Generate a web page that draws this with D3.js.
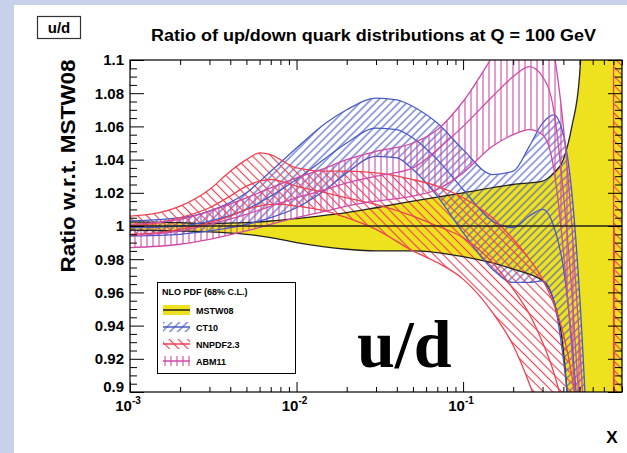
<!DOCTYPE html>
<html><head><meta charset="utf-8">
<script src="https://cdn.jsdelivr.net/npm/d3@7"></script>
<style>body{margin:0;background:#fff;overflow:hidden}svg{display:block}</style>
</head><body>
<script>
// ---------- data ----------
const mstwX    = [0.001, 0.002, 0.003, 0.005, 0.007, 0.01, 0.02, 0.03, 0.05, 0.1, 0.2, 0.3, 0.35, 0.4, 0.45, 0.5, 0.55, 0.6, 0.9];
const mstwHigh = [1.0025, 1.002, 1.0015, 1.002, 1.003, 1.0045, 1.008, 1.011, 1.015, 1.020, 1.025, 1.027, 1.032, 1.040, 1.06, 1.09, 1.2, 1.5, 2.0];
const mstwLow  = [0.9975, 0.997, 0.9965, 0.995, 0.993, 0.990, 0.986, 0.985, 0.985, 0.9815, 0.974, 0.967, 0.955, 0.925, 0.85, 0.7, 0.5, 0.3, 0.0];

const ct10X    = [0.001, 0.002, 0.003, 0.005, 0.007, 0.01, 0.015, 0.02, 0.03, 0.04, 0.05, 0.07, 0.1, 0.15, 0.2, 0.25, 0.3, 0.35, 0.4, 0.45, 0.5, 0.6];
const ct10High = [1.003, 1.005, 1.009, 1.020, 1.033, 1.047, 1.062, 1.070, 1.077, 1.076, 1.072, 1.062, 1.046, 1.031, 1.033, 1.048, 1.062, 1.067, 1.055, 1.02, 0.96, 0.8];
const ct10Cen  = [0.999, 1.0, 1.003, 1.010, 1.018, 1.028, 1.041, 1.050, 1.059, 1.058, 1.053, 1.04, 1.022, 1.003, 0.999, 1.006, 1.010, 1.0, 0.975, 0.93, 0.87, 0.7];
const ct10Low  = [0.994, 0.995, 0.997, 1.001, 1.005, 1.011, 1.022, 1.032, 1.042, 1.041, 1.034, 1.018, 0.996, 0.974, 0.966, 0.966, 0.967, 0.955, 0.92, 0.87, 0.8, 0.6];

const nnpdfX    = [0.001, 0.0015, 0.002, 0.003, 0.004, 0.005, 0.006, 0.007, 0.008, 0.01, 0.015, 0.02, 0.03, 0.05, 0.07, 0.1, 0.15, 0.2, 0.25, 0.3, 0.35, 0.4, 0.45, 0.5, 0.6, 0.7, 0.8, 0.81, 0.9];
const nnpdfHigh = [1.006, 1.008, 1.012, 1.022, 1.033, 1.040, 1.044, 1.043, 1.040, 1.035, 1.033, 1.033, 1.032, 1.028, 1.024, 1.017, 1.005, 0.992, 0.98, 0.968, 0.953, 0.935, 0.91, 0.875, 0.8, 0.72, 0.65, 4.0, 4.0];
const nnpdfCen  = [1.0, 1.002, 1.005, 1.011, 1.018, 1.024, 1.027, 1.028, 1.027, 1.024, 1.02, 1.017, 1.013, 1.006, 1.0, 0.993, 0.978, 0.962, 0.947, 0.93, 0.912, 0.89, 0.862, 0.82, 0.74, 0.66, 0.6, 1.0, 1.0];
const nnpdfLow  = [0.995, 0.996, 0.998, 1.002, 1.006, 1.010, 1.012, 1.013, 1.013, 1.012, 1.009, 1.005, 0.998, 0.985, 0.978, 0.968, 0.948, 0.928, 0.905, 0.882, 0.86, 0.835, 0.80, 0.76, 0.68, 0.6, 0.55, -2.0, -2.0];

const abmX    = [0.001, 0.002, 0.003, 0.005, 0.007, 0.01, 0.015, 0.02, 0.03, 0.05, 0.07, 0.1, 0.15, 0.2, 0.25, 0.3, 0.35, 0.4, 0.45, 0.5, 0.6];
const abmHigh = [1.001, 1.004, 1.009, 1.017, 1.023, 1.029, 1.035, 1.040, 1.045, 1.050, 1.058, 1.075, 1.102, 1.122, 1.13, 1.125, 1.105, 1.06, 1.0, 0.93, 0.8];
const abmCen  = [0.994, 0.997, 1.001, 1.007, 1.012, 1.017, 1.022, 1.026, 1.030, 1.035, 1.046, 1.06, 1.078, 1.09, 1.096, 1.09, 1.07, 1.02, 0.96, 0.89, 0.75];
const abmLow  = [0.987, 0.989, 0.992, 0.997, 1.001, 1.005, 1.009, 1.012, 1.015, 1.018, 1.022, 1.032, 1.048, 1.055, 1.058, 1.055, 1.035, 0.985, 0.925, 0.86, 0.7];

const yMajorTicks  = [0.9, 0.92, 0.94, 0.96, 0.98, 1.0, 1.02, 1.04, 1.06, 1.08, 1.1];
const yTickLabels  = ["0.9", "0.92", "0.94", "0.96", "0.98", "1", "1.02", "1.04", "1.06", "1.08", "1.1"];
const xMajorTicks  = [0.001, 0.01, 0.1];
const xTickExps    = ["-3", "-2", "-1"];
const xMinorTicks  = [0.002,0.003,0.004,0.005,0.006,0.007,0.008,0.009,0.02,0.03,0.04,0.05,0.06,0.07,0.08,0.09,0.2,0.3,0.4,0.5,0.6,0.7,0.8,0.9];
const legendLabels = ["MSTW08", "CT10", "NNPDF2.3", "ABM11"];

// ---------- layout ----------
const W = 627, H = 453;
const L = 130, R = 622, T = 60, B = 392;
const colYellow = "#eee21f", colBlue = "#4a5bc6", colRed = "#ef4151", colMag = "#cf4aa6";

const svg = d3.select("body").append("svg").attr("width", W).attr("height", H)
  .style("font-family", "'Liberation Sans', Arial, sans-serif");

svg.append("rect").attr("width", W).attr("height", H).attr("fill", "#c7d1e9");
svg.append("rect").attr("x", 14).attr("y", 5).attr("width", W - 14).attr("height", H - 5).attr("fill", "#ffffff");

const x = d3.scaleLog().domain([0.001, 0.9]).range([L, R]);
const y = d3.scaleLinear().domain([0.9, 1.1]).range([B, T]);

const defs = svg.append("defs");
defs.append("clipPath").attr("id", "plotclip").append("rect")
  .attr("x", L).attr("y", T).attr("width", R - L).attr("height", B - T);

function hatch(id, color, spacing, angle, width) {
  const p = defs.append("pattern").attr("id", id).attr("patternUnits", "userSpaceOnUse")
    .attr("width", spacing).attr("height", spacing).attr("patternTransform", `rotate(${angle})`);
  p.append("line").attr("x1", spacing / 2).attr("y1", -1).attr("x2", spacing / 2).attr("y2", spacing + 1)
    .attr("stroke", color).attr("stroke-width", width);
}
hatch("hBlue", colBlue, 5.5, 45, 1.1);
hatch("hRed", colRed, 6.5, -45, 1.1);
hatch("hMag", colMag, 6, 0, 1.1);

function zip(xs, lo, cen, hi) { return xs.map((v, i) => ({ x: v, lo: lo[i], c: cen ? cen[i] : 1, hi: hi[i] })); }
const mstw = zip(mstwX, mstwLow, null, mstwHigh);
const ct10 = zip(ct10X, ct10Low, ct10Cen, ct10High);
const nnpdf = zip(nnpdfX, nnpdfLow, nnpdfCen, nnpdfHigh);
const abm = zip(abmX, abmLow, abmCen, abmHigh);

const area = d3.area().x(d => x(d.x)).y0(d => y(d.lo)).y1(d => y(d.hi)).curve(d3.curveMonotoneX);
const line = key => d3.line().x(d => x(d.x)).y(d => y(d[key])).curve(d3.curveMonotoneX);

const g = svg.append("g").attr("clip-path", "url(#plotclip)");
g.append("path").datum(mstw).attr("d", area).attr("fill", colYellow);
g.append("path").datum(ct10).attr("d", area).attr("fill", "url(#hBlue)");
g.append("path").datum(nnpdf).attr("d", area).attr("fill", "url(#hRed)");
g.append("path").datum(abm).attr("d", area).attr("fill", "url(#hMag)");

function lines(data, color, keys) {
  keys.forEach(k => g.append("path").datum(data).attr("d", line(k)).attr("fill", "none")
    .attr("stroke", color).attr("stroke-width", 1.3));
}
lines(mstw, "#222", ["lo", "hi"]);
lines(ct10, colBlue, ["lo", "c", "hi"]);
lines(nnpdf, colRed, ["lo", "c", "hi"]);
lines(abm, colMag, ["lo", "c", "hi"]);
g.append("line").attr("x1", L).attr("x2", R).attr("y1", y(1)).attr("y2", y(1)).attr("stroke", "#222").attr("stroke-width", 1.3);

// ---------- axes ----------
const yMinor = d3.range(0.9, 1.1001, 0.005).filter(v => !yMajorTicks.some(m => Math.abs(m - v) < 1e-6));
function styleAxis(sel) { sel.select(".domain").remove(); sel.selectAll("line").attr("stroke", "#000").attr("stroke-width", 1); }

svg.append("g").attr("transform", `translate(${L},0)`)
  .call(d3.axisLeft(y).tickValues(yMajorTicks).tickSize(-14).tickPadding(6).tickFormat((d, i) => yTickLabels[i]))
  .call(styleAxis)
  .call(s => s.selectAll("text").attr("font-size", 15).attr("font-weight", "bold").attr("fill", "#000")
     .attr("font-family", "'Liberation Sans', Arial, sans-serif")
     .attr("dy", (d) => d === 0.9 ? "-0.05em" : "0.32em"));
svg.append("g").attr("transform", `translate(${L},0)`)
  .call(d3.axisLeft(y).tickValues(yMinor).tickSize(-7).tickFormat("")).call(styleAxis);
svg.append("g").attr("transform", `translate(${R},0)`)
  .call(d3.axisRight(y).tickValues(yMajorTicks).tickSize(-14).tickFormat("")).call(styleAxis);
svg.append("g").attr("transform", `translate(${R},0)`)
  .call(d3.axisRight(y).tickValues(yMinor).tickSize(-7).tickFormat("")).call(styleAxis);

svg.append("g").attr("transform", `translate(0,${B})`)
  .call(d3.axisBottom(x).tickValues(xMajorTicks).tickSize(-10).tickFormat("")).call(styleAxis);
svg.append("g").attr("transform", `translate(0,${B})`)
  .call(d3.axisBottom(x).tickValues(xMinorTicks).tickSize(-5).tickFormat("")).call(styleAxis);
svg.append("g").attr("transform", `translate(0,${T})`)
  .call(d3.axisTop(x).tickValues(xMajorTicks).tickSize(-10).tickFormat("")).call(styleAxis);
svg.append("g").attr("transform", `translate(0,${T})`)
  .call(d3.axisTop(x).tickValues(xMinorTicks).tickSize(-5).tickFormat("")).call(styleAxis);

svg.append("rect").attr("x", L).attr("y", T).attr("width", R - L).attr("height", B - T)
  .attr("fill", "none").attr("stroke", "#000").attr("stroke-width", 1.2);

xMajorTicks.forEach((v, i) => {
  const t = svg.append("text").attr("x", x(v) - 2).attr("y", 411).attr("text-anchor", "middle")
    .attr("font-size", 15).attr("font-weight", "bold");
  t.append("tspan").text("10");
  t.append("tspan").attr("dy", -7).attr("font-size", 10).text(xTickExps[i]);
});

// titles
svg.append("text").attr("x", 612).attr("y", 443).attr("text-anchor", "middle")
  .attr("font-size", 17).attr("font-weight", "bold").text("X");
svg.append("text").attr("transform", "translate(75,166) rotate(-90)").attr("text-anchor", "middle")
  .attr("font-size", 21).attr("font-weight", "bold").attr("textLength", 213).attr("lengthAdjust", "spacingAndGlyphs")
  .text("Ratio w.r.t. MSTW08");
svg.append("text").attr("x", 151).attr("y", 41).attr("font-size", 16).attr("font-weight", "bold")
  .attr("textLength", 445).attr("lengthAdjust", "spacingAndGlyphs")
  .text("Ratio of up/down quark distributions at Q = 100 GeV");
svg.append("rect").attr("x", 37.5).attr("y", 16.5).attr("width", 43).attr("height", 22)
  .attr("fill", "#fff").attr("stroke", "#333").attr("stroke-width", 1.2);
svg.append("text").attr("x", 59).attr("y", 33).attr("text-anchor", "middle")
  .attr("font-size", 15).attr("font-weight", "bold").text("u/d");

svg.append("text").attr("x", 357).attr("y", 367).attr("font-size", 68).attr("font-weight", "bold")
  .attr("font-family", "'Liberation Serif', 'Times New Roman', serif").text("u/d");

// ---------- legend ----------
const lg = svg.append("g");
lg.append("rect").attr("x", 157.5).attr("y", 282.5).attr("width", 138).attr("height", 91)
  .attr("fill", "#fff").attr("stroke", "#000").attr("stroke-width", 1);
lg.append("text").attr("x", 162).attr("y", 295).attr("font-size", 9).attr("font-weight", "bold")
  .text("NLO PDF (68% C.L.)");
const legFill = [colYellow, "url(#hBlue)", "url(#hRed)", "url(#hMag)"];
const legLine = ["#222", colBlue, colRed, colMag];
legendLabels.forEach((lab, i) => {
  const cy = 310 + i * 17;
  lg.append("rect").attr("x", 163).attr("y", cy - 5).attr("width", 27).attr("height", 10).attr("fill", legFill[i]);
  lg.append("line").attr("x1", 163).attr("x2", 190).attr("y1", cy).attr("y2", cy)
    .attr("stroke", legLine[i]).attr("stroke-width", 1.5);
  lg.append("text").attr("x", 196).attr("y", cy + 3.5).attr("font-size", 9).attr("font-weight", "bold").text(lab);
});
</script>
</body></html>
